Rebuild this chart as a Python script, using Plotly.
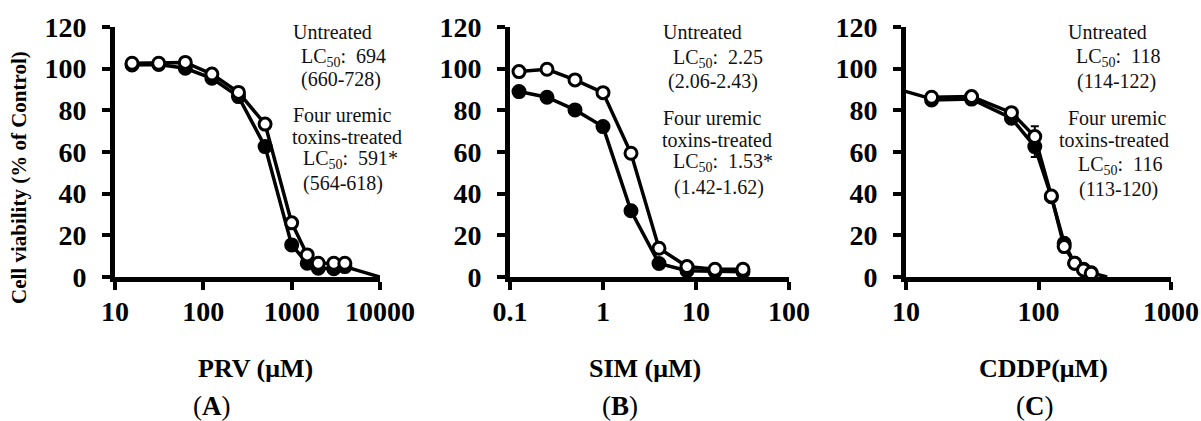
import plotly.graph_objects as go

W, H = 1201, 421

# ---------------- data ----------------
# Panel A: PRV
prv_dose = [15.6, 31.25, 62.5, 125, 250, 500, 1000, 1500, 2000, 3000, 4000]
prv_untreated = [102.6, 102.6, 103.0, 97.4, 88.6, 73.4, 26.0, 10.6, 6.6, 6.6, 6.6]
prv_toxins = [101.8, 102.0, 100.2, 95.4, 86.6, 62.6, 15.4, 6.6, 4.2, 4.0, 5.0]
prv_tail_x = [4000, 10000]
prv_tail_y = [5.0, 0.0]

# Panel B: SIM
sim_dose = [0.125, 0.25, 0.5, 1, 2, 4, 8, 16, 32]
sim_untreated = [98.6, 99.7, 94.6, 88.5, 59.4, 13.8, 5.0, 3.7, 3.7]
sim_toxins = [89.0, 86.3, 80.2, 72.2, 31.8, 6.5, 3.0, 2.7, 2.5]

# Panel C: CDDP
cddp_dose = [15.6, 31.25, 62.5, 93.75, 125, 156.25, 187.5, 218.75, 250]
cddp_untreated = [86.3, 86.6, 78.9, 67.4, 38.9, 14.6, 6.6, 3.4, 1.8]
cddp_toxins = [85.0, 85.4, 76.2, 62.6, 38.5, 16.2, 6.6, 3.7, 2.0]
cddp_err = [0, 0, 0, 5, 0, 0, 0, 0, 0]
cddp_lead_x = [7.8, 15.6]
cddp_lead_y = [91.0, 85.5]
cddp_tail_x = [250, 330]
cddp_tail_y = [2.0, 0.0]

y_ticks = [0, 20, 40, 60, 80, 100, 120]
xa_ticks = [10, 100, 1000, 10000]
xb_ticks = [0.1, 1, 10, 100]
xc_ticks = [10, 100, 1000]
xa_labels = ["10", "100", "1000", "10000"]
xb_labels = ["0.1", "1", "10", "100"]
xc_labels = ["10", "100", "1000"]

x_titles = ["PRV (μM)", "SIM (μM)", "CDDP(μM)"]
panel_labels = ["(<b>A</b>)", "(<b>B</b>)", "(<b>C</b>)"]
y_title = "Cell viability (% of Control)"

notes_a = ["Untreated", "LC<sub>50</sub>:  694", "(660-728)", "Four uremic",
           "toxins-treated", "LC<sub>50</sub>:  591*", "(564-618)"]
notes_b = ["Untreated", "LC<sub>50</sub>:  2.25", "(2.06-2.43)", "Four uremic",
           "toxins-treated", "LC<sub>50</sub>:  1.53*", "(1.42-1.62)"]
notes_c = ["Untreated", "LC<sub>50</sub>:  118", "(114-122)", "Four uremic",
           "toxins-treated", "LC<sub>50</sub>:  116", "(113-120)"]

# ---------------- layout helpers ----------------
def px(x):
    return x / W

def py(y):
    return 1 - y / H

SERIF = "Liberation Serif"
LW = 3.5
MS = 12

fig = go.Figure()

def add_panel(xs, unt, tox, xa, ya, err=None):
    # toxins-treated (filled) first, untreated (open) on top
    for vals, fill in [(tox, "black"), (unt, "white")]:
        fig.add_trace(go.Scatter(
            x=xs, y=vals, mode="lines+markers", xaxis=xa, yaxis=ya,
            line=dict(color="black", width=LW),
            marker=dict(symbol="circle", size=MS, color=fill,
                        line=dict(color="black", width=3)),
            error_y=dict(type="data", array=err, color="black", thickness=2,
                         width=4, visible=err is not None),
            cliponaxis=False, showlegend=False))

def add_line(xs, ys, xa, ya):
    fig.add_trace(go.Scatter(x=xs, y=ys, mode="lines", xaxis=xa, yaxis=ya,
                             line=dict(color="black", width=LW),
                             showlegend=False, hoverinfo="skip"))

add_line(prv_tail_x, prv_tail_y, "x", "y")
add_panel(prv_dose, prv_untreated, prv_toxins, "x", "y")
add_panel(sim_dose, sim_untreated, sim_toxins, "x2", "y2")
add_line(cddp_lead_x, cddp_lead_y, "x3", "y3")
add_line(cddp_tail_x, cddp_tail_y, "x3", "y3")
add_panel(cddp_dose, cddp_untreated, cddp_toxins, "x3", "y3", cddp_err)

tickfont = dict(family=SERIF, size=28, color="black", weight="bold")
common = dict(showline=True, linecolor="black", linewidth=5, ticks="outside",
              ticklen=8, tickwidth=4, tickcolor="black", showgrid=False,
              zeroline=False, tickfont=tickfont, mirror=False, automargin=False)

ydom = [py(277), py(27)]

def xaxis(dom, rng, tv, tt, anchor):
    d = dict(common)
    d.update(domain=[px(dom[0]), px(dom[1])], type="log", range=rng,
             tickvals=tv, ticktext=tt, anchor=anchor, ticklabelstandoff=-3)
    return d

def yaxis(anchor):
    d = dict(common)
    d.update(domain=ydom, range=[0, 120], tickvals=y_ticks, anchor=anchor,
             ticklabelstandoff=10)
    return d

fig.update_layout(
    width=W, height=H, margin=dict(l=0, r=0, t=0, b=0, pad=0, autoexpand=False),
    paper_bgcolor="white", plot_bgcolor="white",
    xaxis=xaxis((115, 380), [1, 4], xa_ticks, xa_labels, "y"),
    xaxis2=xaxis((510, 789), [-1, 2], xb_ticks, xb_labels, "y2"),
    xaxis3=xaxis((906, 1171), [1, 3], xc_ticks, xc_labels, "y3"),
    yaxis=yaxis("x"),
    yaxis2=yaxis("x2"),
    yaxis3=yaxis("x3"),
)

ann = []
# y-axis title
ann.append(dict(x=px(19), y=py(178), xref="paper", yref="paper", text=y_title,
                textangle=-90, showarrow=False, xanchor="center", yanchor="middle",
                font=dict(family=SERIF, size=21, color="black", weight="bold")))

# x titles and panel labels
for cx, t in zip([255, 645, 1043], x_titles):
    ann.append(dict(x=px(cx), y=py(368), xref="paper", yref="paper", text=t,
                    showarrow=False, xanchor="center", yanchor="middle",
                    font=dict(family=SERIF, size=26, color="black", weight="bold")))
for cx, t in zip([212, 620, 1035], panel_labels):
    ann.append(dict(x=px(cx), y=py(406), xref="paper", yref="paper", text=t,
                    showarrow=False, xanchor="center", yanchor="middle",
                    font=dict(family=SERIF, size=27, color="black")))

pos_a = [(292, 32), (300, 57), (300, 80), (292, 115), (291, 137), (302, 160), (302, 183)]
pos_b = [(662, 32), (672, 58), (667, 82), (662, 118), (661, 140), (672, 163), (673, 188)]
pos_c = [(1067, 32), (1075, 57), (1076, 82), (1067, 118), (1058, 140), (1077, 165), (1078, 190)]
for notes, pos in [(notes_a, pos_a), (notes_b, pos_b), (notes_c, pos_c)]:
    for t, (x, y) in zip(notes, pos):
        ann.append(dict(x=px(x), y=py(y), xref="paper", yref="paper", text=t,
                        showarrow=False, xanchor="left", yanchor="middle",
                        borderpad=0,
                        font=dict(family=SERIF, size=20, color="#111111")))

fig.update_layout(annotations=ann)
fig.write_html("out.html")
